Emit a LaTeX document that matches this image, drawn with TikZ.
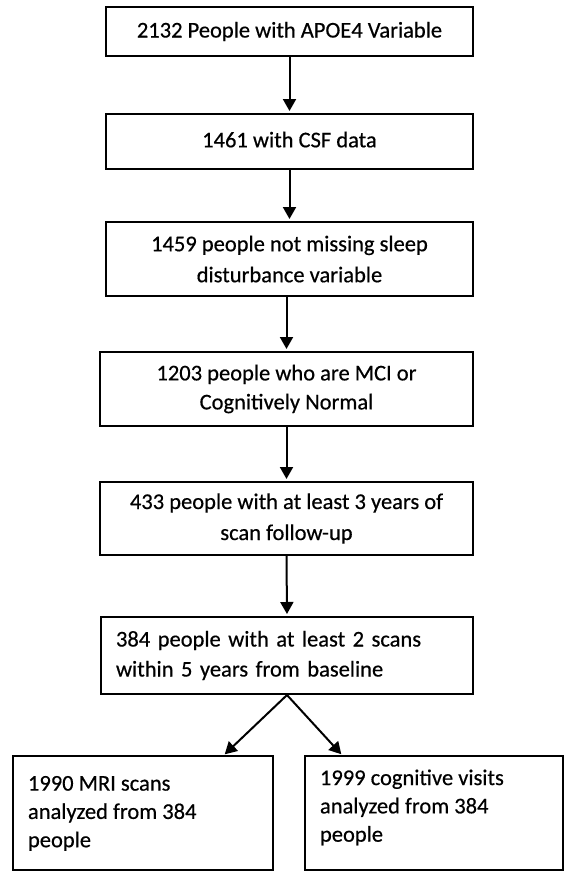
\documentclass[tikz,border=0pt]{standalone}
\usepackage{fontspec}
\setmainfont{Carlito}[FakeBold=0.5]
\usetikzlibrary{arrows.meta,calc}
\begin{document}
\begin{tikzpicture}[x=1pt,y=-1pt,
  flowbox/.style={draw=black, line width=2pt, align=center, inner sep=0pt,
    font=\fontsize{22.5}{29}\selectfont},
  leftbox/.style={draw=black, line width=2pt, inner xsep=15pt, inner ysep=0pt,
    font=\fontsize{22.5}{28.3}\selectfont},
  flowarrow/.style={line width=2pt, -{Triangle[length=12pt,width=13pt]}, shorten >=2pt}]
\useasboundingbox (0,0) rectangle (564,871);
\node[flowbox, minimum width=367pt, minimum height=49pt] (b1) at (289.5,31.5)
  {2132 People with APOE4 Variable};
\node[flowbox, minimum width=367pt, minimum height=55pt] (b2) at (289.5,141.5)
  {\raisebox{4pt}{1461 with CSF data}};
\node[flowbox, minimum width=367pt, minimum height=74pt, font=\fontsize{22.5}{31}\selectfont] (b3) at (289.5,259)
  {1459 people not missing sleep\\disturbance variable};
\node[flowbox, minimum width=373pt, minimum height=74pt] (b4) at (286.5,389)
  {1203 people who are MCI or\\Cognitively Normal};
\node[flowbox, minimum width=373pt, minimum height=73pt, font=\fontsize{22.5}{31}\selectfont] (b5) at (286.5,518.5)
  {433 people with at least 3 years of\\scan follow-up};
\node[flowbox, minimum width=372pt, minimum height=77pt, align=left, inner xsep=15pt,
  text width=342pt, font=\fontsize{22.5}{30}\selectfont] (b6) at (287,655.5)
  {384 people with at least 2 scans\\within 5 years from baseline};
\node[leftbox] (lb) at (143,813)
  {\parbox[c][114pt][t]{230pt}{\vspace*{20pt}1990 MRI scans\\analyzed from 384\\people}};
\node[leftbox] (rb) at (434,813)
  {\parbox[c][114pt][t]{228pt}{\vspace*{13.5pt}1999 cognitive visits\\analyzed from 384\\people}};
\draw[flowarrow] (b1.south) -- (b1.south |- b2.north);
\draw[flowarrow] (b2.south) -- (b2.south |- b3.north);
\draw[flowarrow] (b3.south -| b4.south) -- (b4.north);
\draw[flowarrow] (b4.south) -- (b5.north);
\draw[flowarrow] (b5.south) -- (b6.north);
\draw[flowarrow, shorten >=1pt] (b6.south) -- ($(lb.north east)+(-50,0)$);
\draw[flowarrow, shorten >=1pt] (b6.south) -- ($(rb.north west)+(38,0)$);
\end{tikzpicture}
\end{document}
